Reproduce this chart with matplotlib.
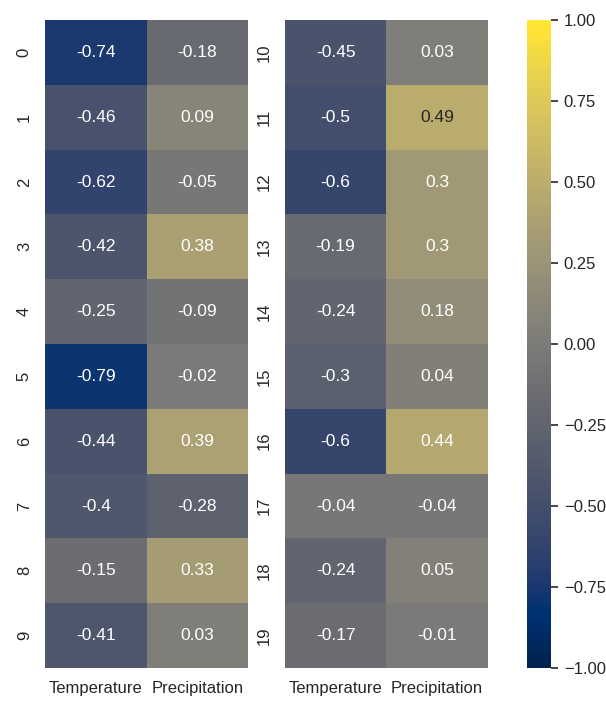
import matplotlib
matplotlib.use("Agg")
import matplotlib.pyplot as plt
import numpy as np
import pandas as pd
import seaborn as sns

columns = ["Temperature", "Precipitation"]

index_a = list(range(0, 10))
temperature_a = [-0.74, -0.46, -0.62, -0.42, -0.25, -0.79, -0.44, -0.4, -0.15, -0.41]
precipitation_a = [-0.18, 0.09, -0.05, 0.38, -0.09, -0.02, 0.39, -0.28, 0.33, 0.03]

index_b = list(range(10, 20))
temperature_b = [-0.45, -0.5, -0.6, -0.19, -0.24, -0.3, -0.6, -0.04, -0.24, -0.17]
precipitation_b = [0.03, 0.49, 0.3, 0.3, 0.18, 0.04, 0.44, -0.04, 0.05, -0.01]

df_a = pd.DataFrame({"Temperature": temperature_a, "Precipitation": precipitation_a}, index=index_a)
df_b = pd.DataFrame({"Temperature": temperature_b, "Precipitation": precipitation_b}, index=index_b)

sns.set_theme(style="white")
plt.rcParams["font.family"] = ["Liberation Sans", "DejaVu Sans"]

fig = plt.figure(figsize=(6.06, 7.05), dpi=100)
ax1 = fig.add_axes([0.0743, 0.0525, 0.335, 0.919])
ax2 = fig.add_axes([0.470, 0.0525, 0.335, 0.919])
cax = fig.add_axes([0.870, 0.0525, 0.0396, 0.919])

sns.heatmap(df_a[columns], ax=ax1, cmap="cividis", vmin=-1, vmax=1, annot=True,
            annot_kws={"size": 12.5}, cbar=False)
sns.heatmap(df_b[columns], ax=ax2, cmap="cividis", vmin=-1, vmax=1, annot=True,
            annot_kws={"size": 12.5}, cbar_ax=cax)

for ax in (ax1, ax2):
    ax.tick_params(axis="both", labelsize=12)
    ax.set_yticklabels(ax.get_yticklabels(), rotation=90, va="center")
    ax.set_xticklabels(ax.get_xticklabels(), rotation=0)

cax.tick_params(labelsize=12, length=5, width=1.2, pad=4)
cax.set_yticks(np.arange(-1, 1.01, 0.25))

fig.savefig("out.png", dpi=100)
